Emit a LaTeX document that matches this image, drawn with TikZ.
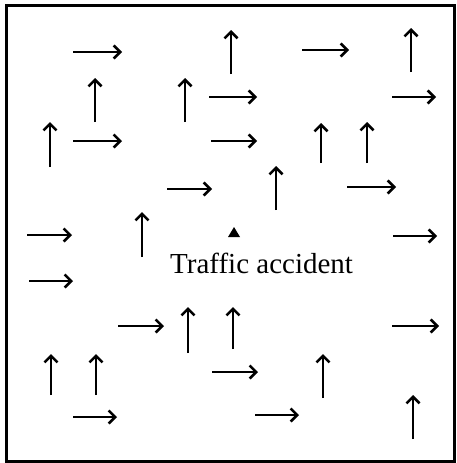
\documentclass[tikz,border=0pt]{standalone}
\usepackage{fontspec}
\setmainfont{Liberation Serif}
\usetikzlibrary{arrows.meta}
\definecolor{Ink}{HTML}{000000}
\tikzset{
  flow/.style={draw=Ink,line width=2.6pt,
    -{Straight Barb[length=6.5pt,width=13pt,line width=2.6pt]}},
  frame/.style={draw=Ink,line width=3pt}}

\begin{document}
\begin{tikzpicture}[x=1pt,y=-1pt]
  \useasboundingbox (0,0) rectangle (456,463);
  \draw[frame] (6,5) rectangle (454,461);
  % heading east
  \foreach \xa/\xb/\yy in {73/122/52,73/122/141,167/212/189,302/349/50,
      209/257/97,392/436/97,211/257/141,347/396/187,27/72/235,29/73/281,
      118/164/326,73/117/417,212/258/372,255/299/415,392/439/326,393/437/236}
    \draw[flow] (\xa,\yy) -- (\xb,\yy);
  % heading north
  \foreach \xx/\ya/\yb in {231/74/30,411/72/28,95/122/78,185/122/78,
      50/167/122,321/163/123,367/163/122,276/210/166,142/257/212,
      188/353/307,233/349/307,51/395/354,96/395/354,323/398/354,413/439/395}
    \draw[flow] (\xx,\ya) -- (\xx,\yb);
  % accident spot
  \fill[Ink] (228,237) -- (240,237) -- (234,227) -- cycle;
  \node[anchor=base west,inner sep=0pt,text=Ink,
    font=\fontsize{29}{34}\selectfont] (accident) at (170,273) {Traffic accident};
\end{tikzpicture}
\end{document}
